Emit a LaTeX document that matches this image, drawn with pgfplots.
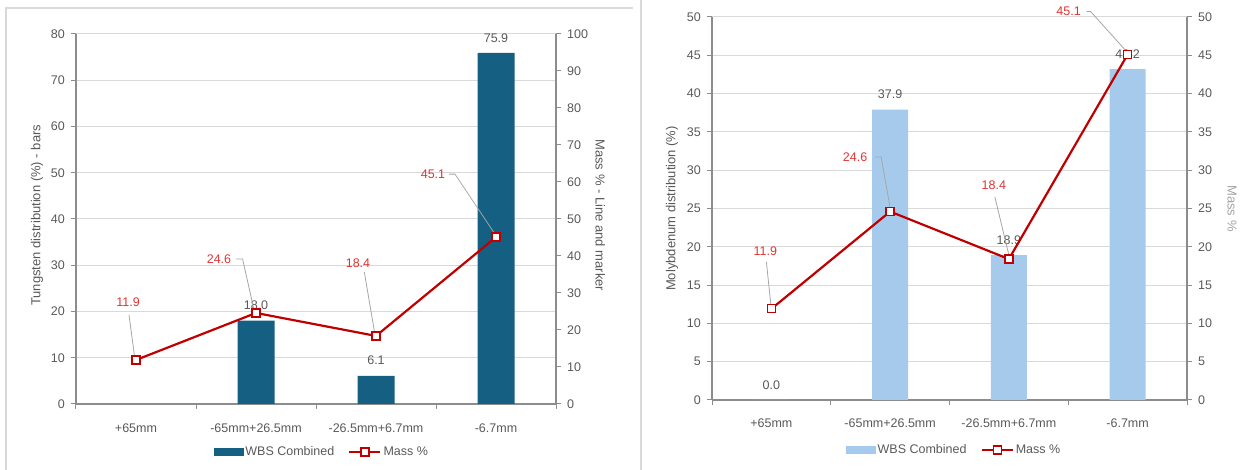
\documentclass[border=0pt]{standalone}
\usepackage{fontspec}
\setmainfont{Liberation Sans}
\usepackage{pgfplots}
\pgfplotsset{compat=1.18}
\usepackage{pgfplotstable}
\definecolor{tung}{HTML}{156082}
\definecolor{moly}{HTML}{A6CAEC}
\definecolor{mline}{HTML}{C00000}
\definecolor{mlab}{HTML}{E03434}
\definecolor{txt}{HTML}{595959}
\definecolor{axc}{HTML}{8C8C8C}
\definecolor{grd}{HTML}{D9D9D9}
\definecolor{lead}{HTML}{A6A6A6}

\pgfplotstableread{
x w
1 18.0
2 6.1
3 75.9
}\tungbars
\pgfplotstableread{
x w
0 0.0
1 37.9
2 18.9
3 43.2
}\molybars
\pgfplotstableread{
x m dx dy
0 11.9 -8 58
1 24.6 -37 54
2 18.4 -18 73
3 45.1 -63 63
}\massL
\pgfplotstableread{
x m dx dy
0 11.9 -6 58
1 24.6 -35 54
2 18.4 -15 74
3 45.1 -59 43
}\massR

\newcommand{\tf}{\fontsize{12.5}{14}\selectfont}
\newcommand{\lf}{\fontsize{13}{15}\selectfont}

\pgfplotsset{
  base/.style={
    scale only axis, xmin=-0.5, xmax=3.5, clip=false,
    axis line style={axc, line width=1.2pt},
    tick style={axc, line width=1pt},
    tick align=outside, major tick length=5pt,
    tick label style={font=\tf, text=txt},
    /pgf/number format/assume math mode=true,
  },
  barax/.style={
    base, axis x line*=bottom, axis y line*=left,
    xtick={-0.5,0.5,1.5,2.5,3.5}, x tick label as interval,
    xticklabels={+65mm,-65mm+26.5mm,-26.5mm+6.7mm,-6.7mm},
    xticklabel style={anchor=center, yshift=-19pt},
    yticklabel style={anchor=east, inner sep=0pt, xshift=-6pt},
    ymajorgrids, grid style={grd, line width=1pt},
  },
  lineax/.style={
    base, axis y line*=right, axis x line=none,
    yticklabel style={anchor=west, inner sep=0pt, xshift=6pt},
    legend style={draw=none, fill=none, legend columns=2, font=\tf, text=txt,
      /tikz/every even column/.append style={column sep=12pt}},
    legend cell align=left,
  },
  massplot/.style={
    mline, line width=2.2pt,
    mark=square*, mark size=4pt, mark options={fill=white, draw=mline, line width=1.3pt},
    visualization depends on={\thisrow{dx}\as\ldx},
    visualization depends on={\thisrow{dy}\as\ldy},
    nodes near coords={\pgfmathprintnumber[fixed,fixed zerofill,precision=1]{\pgfplotspointmeta}},
    every node near coord/.append style={font=\tf, text=mlab, anchor=center, inner sep=0pt, xshift=\ldx pt, yshift=\ldy pt},
    legend image code/.code={
      \draw[mline, line width=2.2pt] (0pt,0pt) -- (31pt,0pt);
      \draw[mline, fill=white, line width=1.3pt] (11.5pt,-4pt) rectangle (19.5pt,4pt);
    },
  },
  barlabels/.style={
    nodes near coords={\pgfmathprintnumber[fixed,fixed zerofill,precision=1]{\pgfplotspointmeta}},
    every node near coord/.append style={font=\tf, text=txt, inner sep=2pt, yshift=8.5pt},
  },
}

\begin{document}
\begin{tikzpicture}
\path[use as bounding box] (0pt,0pt) rectangle (1251pt,470pt);
\draw[grd, line width=1.5pt] (6pt,0pt) -- (6pt,462pt) -- (633pt,462pt);
\draw[grd, line width=1.5pt] (641pt,0pt) -- (641pt,470pt);

% ---------------- Left chart: Tungsten ----------------
\begin{axis}[barax, at={(76pt,66pt)}, anchor=south west, width=480pt, height=370pt,
  ymin=0, ymax=80, ytick={0,10,...,80}]
\addplot[ybar, bar width=37pt, fill=tung, draw=none, barlabels] table[x=x,y=w]{\tungbars};
\node[rotate=90, font=\lf, text=txt, anchor=center] at (rel axis cs:-0.081,0.51) {Tungsten distribution (\%) - bars};
\end{axis}
\begin{axis}[lineax, at={(76pt,66pt)}, anchor=south west, width=480pt, height=370pt,
  ymin=0, ymax=100, ytick={0,10,...,100},
  legend style={at={(0.5125,-0.13)}, anchor=center}]
\addlegendimage{legend image code/.code={\fill[tung] (0pt,-3.5pt) rectangle (29pt,3.5pt);}}
\addlegendentry{WBS Combined}
\draw[lead, line width=0.8pt] ([shift={(-7pt,45pt)}]axis cs:0,11.9) -- ([shift={(-1.5pt,4pt)}]axis cs:0,11.9);
\draw[lead, line width=0.8pt] ([shift={(-20pt,54pt)}]axis cs:1,24.6) -- ([shift={(-13.4pt,54pt)}]axis cs:1,24.6) -- ([shift={(-2pt,3pt)}]axis cs:1,24.6);
\draw[lead, line width=0.8pt] ([shift={(-11.7pt,64pt)}]axis cs:2,18.4) -- ([shift={(-1.5pt,4pt)}]axis cs:2,18.4);
\draw[lead, line width=0.8pt] ([shift={(-47pt,63pt)}]axis cs:3,45.1) -- ([shift={(-41pt,63pt)}]axis cs:3,45.1) -- ([shift={(-1pt,3pt)}]axis cs:3,45.1);
\addplot[massplot] table[x=x,y=m]{\massL};
\addlegendentry{Mass \%}
\node[rotate=-90, font=\lf, text=txt, anchor=center] at (rel axis cs:1.092,0.51) {Mass \% - Line and marker};
\end{axis}

% ---------------- Right chart: Molybdenum ----------------
\begin{axis}[barax, at={(712pt,70pt)}, anchor=south west, width=475pt, height=383pt,
  ymin=0, ymax=50, ytick={0,5,...,50}, xticklabel style={yshift=1pt}]
\addplot[ybar, bar width=36pt, fill=moly, draw=none, barlabels] table[x=x,y=w]{\molybars};
\node[rotate=90, font=\lf, text=txt, anchor=center] at (rel axis cs:-0.084,0.5) {Molybdenum distribution (\%)};
\end{axis}
\begin{axis}[lineax, at={(712pt,70pt)}, anchor=south west, width=475pt, height=383pt,
  ymin=0, ymax=50, ytick={0,5,...,50},
  legend style={at={(0.51,-0.1305)}, anchor=center}]
\addlegendimage{legend image code/.code={\fill[moly] (0pt,-3.5pt) rectangle (29pt,3.5pt);}}
\addlegendentry{WBS Combined}
\draw[lead, line width=0.8pt] ([shift={(-5pt,47pt)}]axis cs:0,11.9) -- ([shift={(-0.5pt,4pt)}]axis cs:0,11.9);
\draw[lead, line width=0.8pt] ([shift={(-15pt,54.6pt)}]axis cs:1,24.6) -- ([shift={(-9pt,54.6pt)}]axis cs:1,24.6) -- ([shift={(0pt,4pt)}]axis cs:1,24.6);
\draw[lead, line width=0.8pt] ([shift={(-14pt,62pt)}]axis cs:2,18.4) -- ([shift={(0pt,4pt)}]axis cs:2,18.4);
\draw[lead, line width=0.8pt] ([shift={(-41pt,43pt)}]axis cs:3,45.1) -- ([shift={(-37pt,43pt)}]axis cs:3,45.1) -- ([shift={(-1pt,3pt)}]axis cs:3,45.1);
\addplot[massplot] table[x=x,y=m]{\massR};
\addlegendentry{Mass \%}
\node[rotate=-90, font=\lf, text=axc!80, anchor=center] at (rel axis cs:1.095,0.5) {Mass \%};
\end{axis}
\end{tikzpicture}
\end{document}
